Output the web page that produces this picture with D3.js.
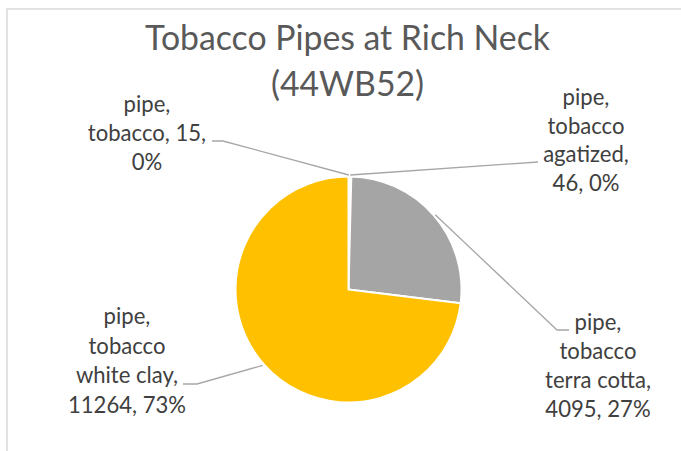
<!DOCTYPE html>
<html>
<head>
<meta charset="utf-8">
<script src="https://cdn.jsdelivr.net/npm/d3@7"></script>
<style>
  html, body { margin: 0; padding: 0; background: #fff; }
  svg { display: block; }
</style>
</head>
<body>
<svg id="chart" width="681" height="451"></svg>
<script>
// ---- data ----
const categories = ["pipe, tobacco", "pipe, tobacco agatized", "pipe, tobacco terra cotta", "pipe, tobacco white clay"];
const values = [15, 46, 4095, 11264];
const colors = ["#4472C4", "#ED7D31", "#A5A5A5", "#FFC000"];
const titleLines = ["Tobacco Pipes at Rich Neck", "(44WB52)"];

// ---- layout ----
const W = 681, H = 451;
const cx = 348.5, cy = 289.5, R = 113;
const fontFamily = "Lato, 'Open Sans', sans-serif";
// words per line for each wrapped label, label anchor, leader elbow and end
const labelLayout = [
  { words: [1, 2, 1],    x: 147, y: 112, lh: 29,   elbow: [223, 141], end: [212, 141] },
  { words: [1, 1, 1, 2], x: 586, y: 105, lh: 28.5, elbow: [538, 162], end: [538, 162] },
  { words: [1, 1, 2, 2], x: 598, y: 330, lh: 29,   elbow: [557, 330], end: [569, 330] },
  { words: [1, 1, 2, 2], x: 127, y: 324, lh: 29.7, elbow: [197, 384], end: [183, 384] }
];

const svg = d3.select("#chart");

// chart border
svg.append("rect")
  .attr("x", 7).attr("y", 9)
  .attr("width", W + 20).attr("height", H + 20)
  .attr("fill", "#fff")
  .attr("stroke", "#d9d9d9").attr("stroke-width", 1.5);

// font size fitting helper
function fitSize(text, target, weight) {
  const t = svg.append("text").attr("font-family", fontFamily).attr("font-size", 100)
    .attr("font-weight", weight || "normal").text(text);
  const w = t.node().getComputedTextLength();
  t.remove();
  return 100 * target / w;
}
const titleSize = fitSize(titleLines[0], 405);
const labelSize = fitSize("tobacco", 77);

// title
svg.append("g").selectAll("text").data(titleLines).join("text")
  .attr("x", cx - 1)
  .attr("y", (d, i) => 50 + i * 46)
  .attr("text-anchor", "middle")
  .attr("font-family", fontFamily)
  .attr("font-size", titleSize)
  .attr("fill", "#595959")
  .text(d => d);

// pie
const total = d3.sum(values);
const pie = d3.pie().sort(null).value(d => d)(values);
const arc = d3.arc().innerRadius(0).outerRadius(R);

const g = svg.append("g").attr("transform", `translate(${cx},${cy})`);
g.selectAll("path").data(pie).join("path")
  .attr("d", arc)
  .attr("fill", (d, i) => colors[i])
  .attr("stroke", "#fff")
  .attr("stroke-width", 2)
  .attr("stroke-linejoin", "round");

// leader lines
const leaders = svg.append("g");
pie.forEach((d, i) => {
  const L = labelLayout[i];
  const a = (d.startAngle + d.endAngle) / 2;
  const sx = cx + (R + 1.5) * Math.sin(a);
  const sy = cy - (R + 1.5) * Math.cos(a);
  const pts = [[sx, sy], L.elbow, L.end];
  leaders.append("path")
    .attr("d", d3.line()(pts))
    .attr("fill", "none")
    .attr("stroke", "#a6a6a6")
    .attr("stroke-width", 1.3);
});

// labels
const labels = svg.append("g");
values.forEach((v, i) => {
  const L = labelLayout[i];
  const pct = Math.round(v / total * 100);
  const words = `${categories[i]}, ${v}, ${pct}%`.split(" ");
  const lines = [];
  let k = 0;
  L.words.forEach(n => { lines.push(words.slice(k, k + n).join(" ")); k += n; });
  const t = labels.append("text")
    .attr("text-anchor", "middle")
    .attr("font-family", fontFamily)
    .attr("font-size", labelSize)
    .attr("fill", "#404040");
  lines.forEach((ln, j) => {
    t.append("tspan").attr("x", L.x).attr("y", L.y + j * L.lh).text(ln);
  });
});
</script>
</body>
</html>
